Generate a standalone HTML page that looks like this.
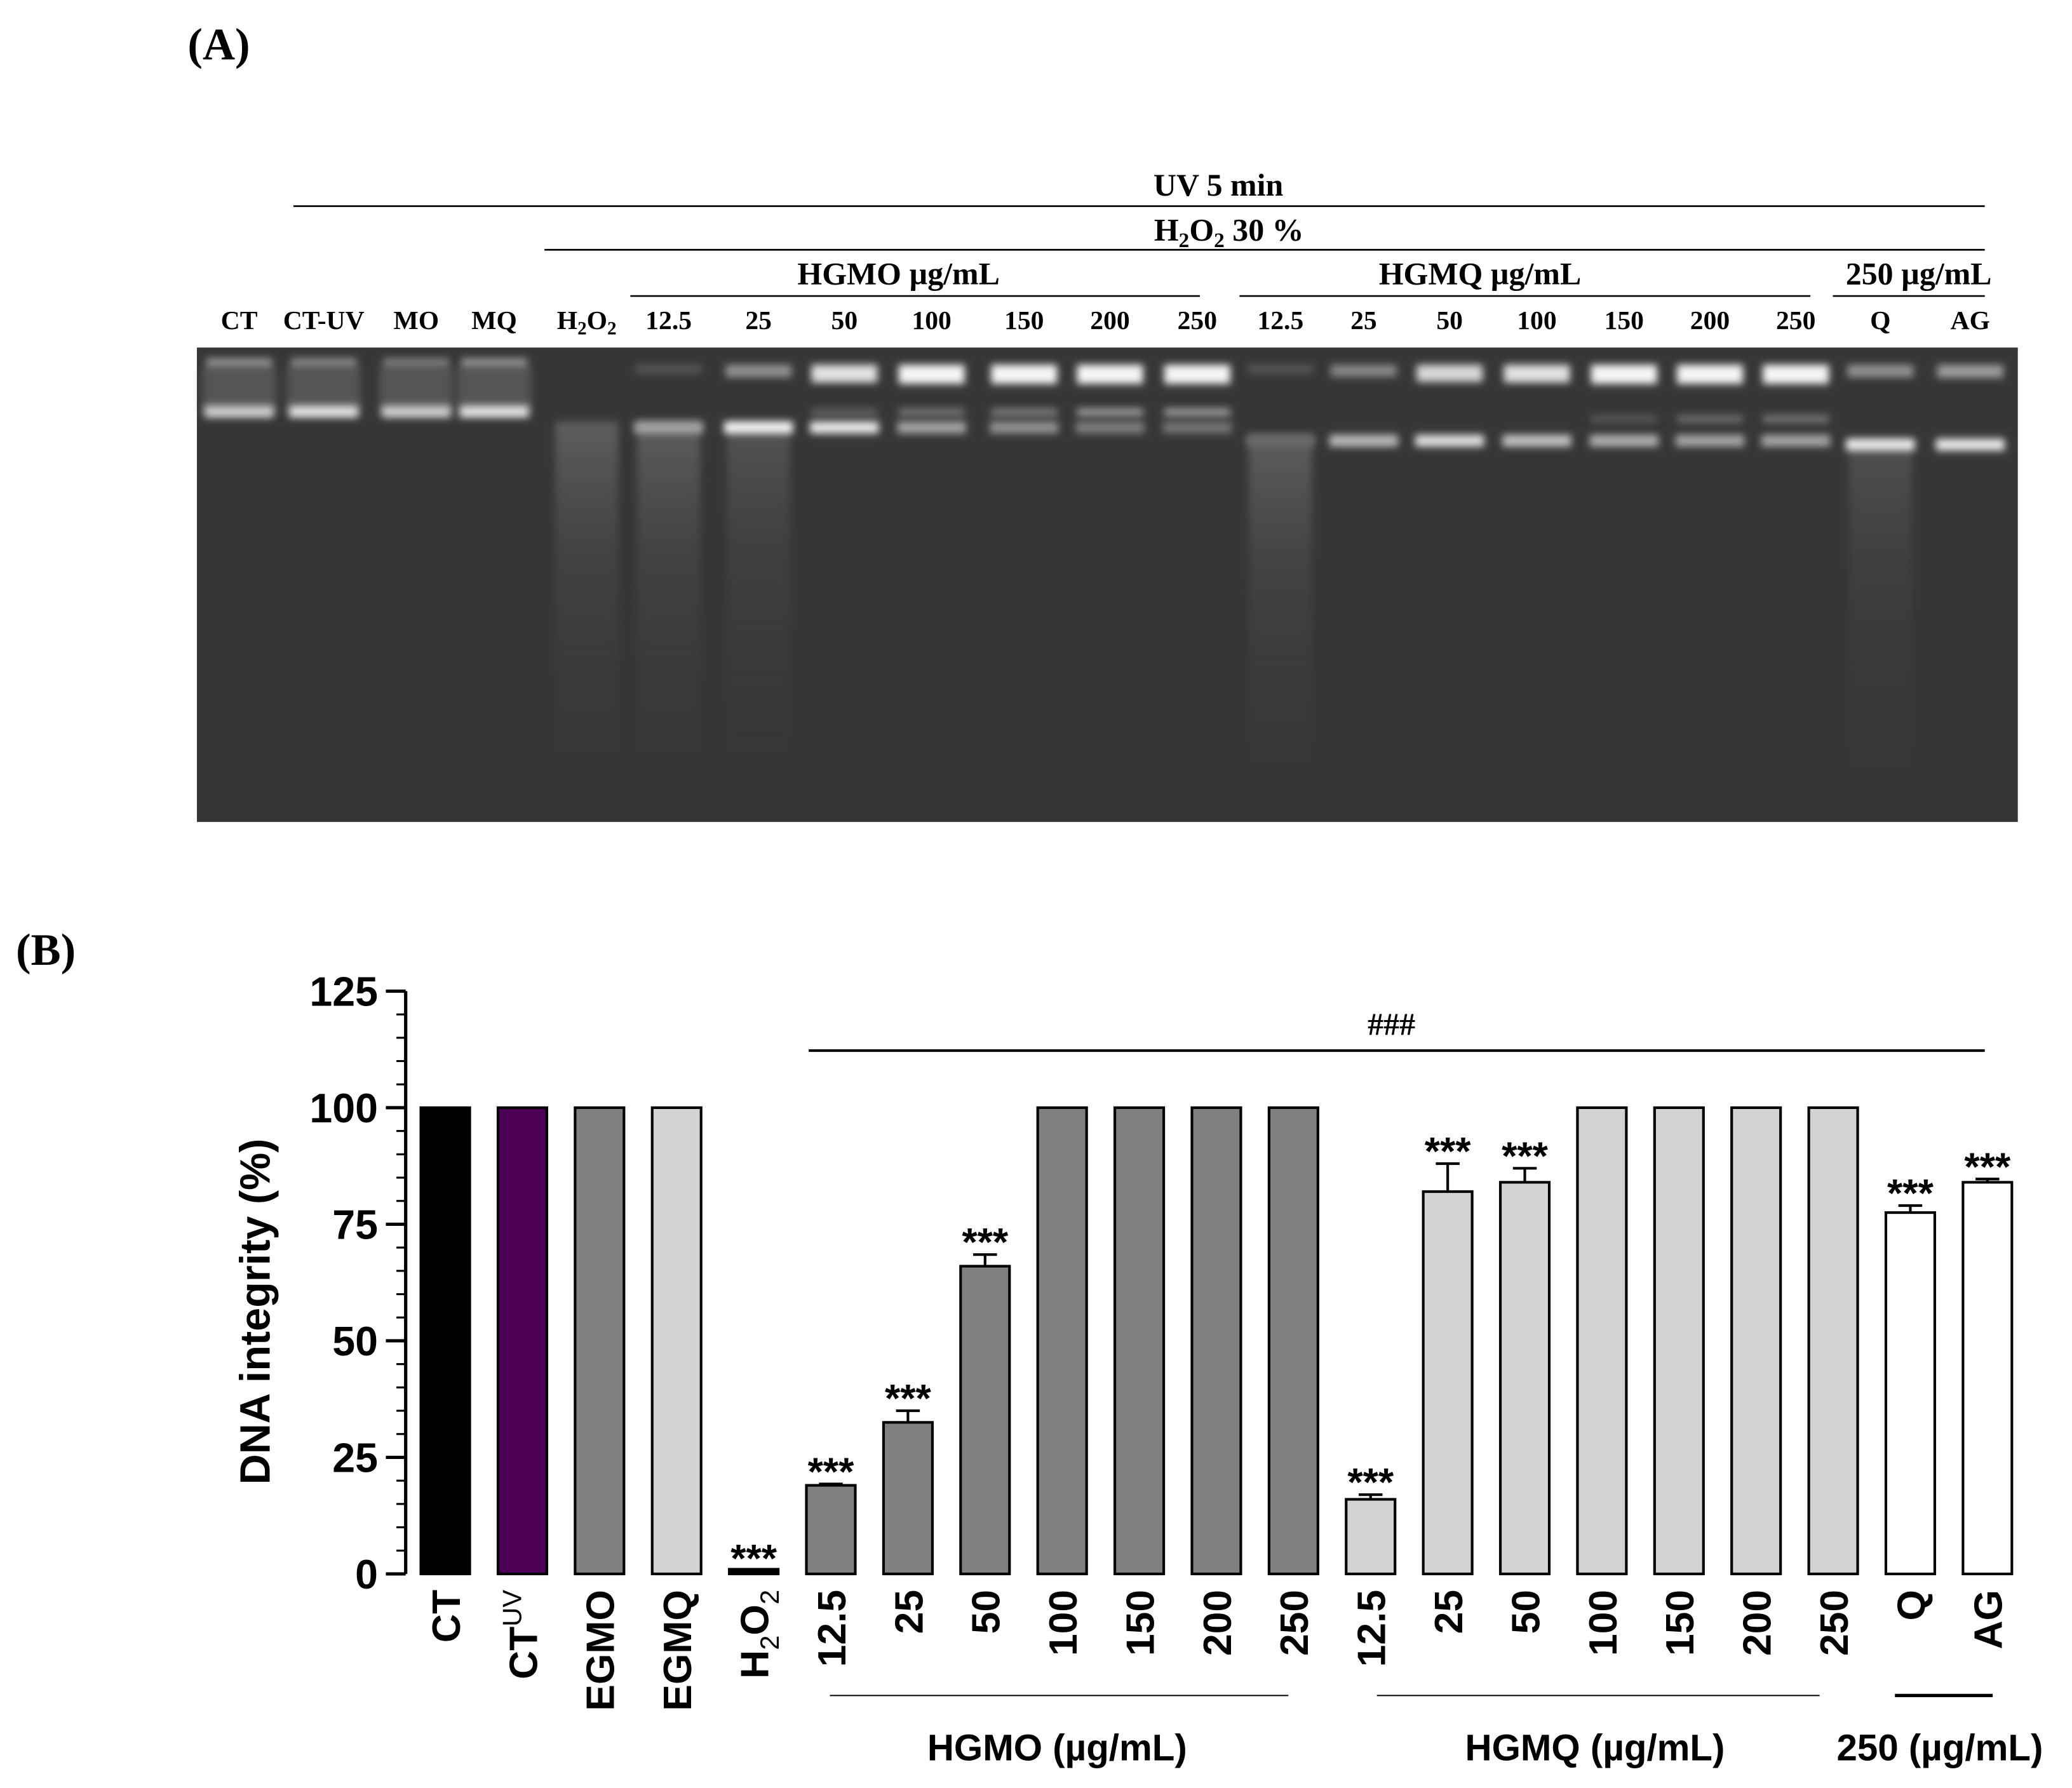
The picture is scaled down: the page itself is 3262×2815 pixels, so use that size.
<!DOCTYPE html>
<html><head><meta charset="utf-8">
<style>
html,body{margin:0;padding:0;background:#fff;}
svg{display:block;}
.tb{font-family:"Liberation Serif",serif;font-weight:bold;}
.ax{font-family:"Liberation Sans",sans-serif;font-weight:bold;}
</style></head>
<body>
<svg id="fig" width="3262" height="2815" viewBox="0 0 1568 1353" preserveAspectRatio="none" xmlns="http://www.w3.org/2000/svg">
<defs>
<filter id="blur" x="-20%" y="-80%" width="140%" height="260%"><feGaussianBlur stdDeviation="3"/></filter>
<linearGradient id="smear" x1="0" y1="0" x2="0" y2="1">
<stop offset="0" stop-color="#8a8a8a" stop-opacity="0.8"/>
<stop offset="0.4" stop-color="#666" stop-opacity="0.45"/>
<stop offset="1" stop-color="#4a4a4a" stop-opacity="0.1"/>
</linearGradient>
</defs>
<text class="tb" x="142" y="45" font-size="34">(A)</text>
<g>
<text class="tb" x="922" y="148" font-size="24" text-anchor="middle">UV 5 min</text>
<line x1="222" y1="156" x2="1502" y2="156" stroke="#000" stroke-width="1.3"/>
<text class="tb" x="930" y="182" font-size="24" text-anchor="middle">H<tspan font-size="16" dy="5">2</tspan><tspan dy="-5">O</tspan><tspan font-size="16" dy="5">2</tspan><tspan dy="-5"> 30 %</tspan></text>
<line x1="412" y1="189" x2="1502" y2="189" stroke="#000" stroke-width="1.3"/>
<text class="tb" x="680" y="215" font-size="24" text-anchor="middle">HGMO µg/mL</text>
<line x1="477" y1="224" x2="908" y2="224" stroke="#000" stroke-width="1.3"/>
<text class="tb" x="1120" y="215" font-size="24" text-anchor="middle">HGMQ µg/mL</text>
<line x1="938" y1="224" x2="1370" y2="224" stroke="#000" stroke-width="1.3"/>
<text class="tb" x="1452" y="215" font-size="24" text-anchor="middle">250 µg/mL</text>
<line x1="1387" y1="224" x2="1502" y2="224" stroke="#000" stroke-width="1.3"/>
</g>
<g id="laneLabels"></g>
<rect x="149" y="263" width="1378" height="359" fill="#363636"/>
<g id="gel"></g>

<text class="tb" x="12" y="730" font-size="34">(B)</text>
<g id="chart"></g>
</svg>
<script>
const NS="http://www.w3.org/2000/svg";
function mk(tag,attrs,parent){const e=document.createElementNS(NS,tag);for(const k in attrs)e.setAttribute(k,attrs[k]);parent.appendChild(e);return e;}

const laneNames=["CT","CT-UV","MO","MQ","H2O2","12.5","25","50","100","150","200","250","12.5","25","50","100","150","200","250","Q","AG"];
const laneX=[181,245,315,374,444,506,574,639,705,775,840,906,969,1032,1097,1163,1229,1294,1359,1423,1491];
const upperInt=[0.45,0.4,0.35,0.45,0,0.15,0.45,0.85,0.95,0.95,0.95,0.95,0.15,0.4,0.8,0.85,0.95,0.95,0.95,0.45,0.5];
const midInt=[0,0,0,0,0,0,0,0.2,0.3,0.35,0.5,0.5,0,0,0,0,0.15,0.25,0.3,0,0];
const lowInt=[0.75,0.85,0.75,0.85,0,0.55,0.95,0.9,0.55,0.45,0.35,0.3,0.25,0.65,0.85,0.7,0.6,0.55,0.55,0.9,0.9];
const lowY=[313,313,313,313,325,325,325,325,325,325,325,325,335,335,335,335,335,335,335,338,338];
const smearLanes=[4,5,6,12,19];
const ll=document.getElementById('laneLabels');
laneNames.forEach((n,i)=>{
  const t=mk('text',{x:laneX[i],y:249,'font-size':20,'text-anchor':'middle',class:'tb'},ll);
  
  
  if(n==="H2O2"){t.innerHTML='H<tspan font-size="14" dy="4">2</tspan><tspan dy="-4">O</tspan><tspan font-size="14" dy="4">2</tspan>';}
  else t.textContent=n;
});
const gel=document.getElementById('gel');
smearLanes.forEach(i=>{
  const r=mk('rect',{x:laneX[i]-24,y:lowY[i]-6,width:48,height:250,fill:'url(#smear)',opacity:i===19?0.4:(i===6?0.45:0.6),filter:'url(#blur)'},gel);
  
  
});
laneX.forEach((x,i)=>{
  const c=v=>`rgb(${Math.round(56+199*v)},${Math.round(56+199*v)},${Math.round(56+199*v)})`;
  if(i<4){const h=mk('rect',{x:x-28,y:278,width:56,height:36,fill:'#555',filter:'url(#blur)'},gel);}
  if(upperInt[i]>0){const b=mk('rect',{x:x-25,y:i<4?271:276,width:50,height:i<4?7:5+10*upperInt[i],fill:c(upperInt[i]),filter:'url(#blur)'},gel);}
  if(midInt[i]>0){const b=mk('rect',{x:x-25,y:i>11?314:309,width:50,height:6,fill:c(midInt[i]),filter:'url(#blur)'},gel);}
  if(lowInt[i]>0){const b=mk('rect',{x:x-26,y:lowY[i]-6,width:52,height:9,fill:c(lowInt[i]),filter:'url(#blur)'},gel);}
});

const categories=["CT","CTUV","EGMO","EGMQ","H2O2","12.5","25","50","100","150","200","250","12.5","25","50","100","150","200","250","Q","AG"];
const values=[100,100,100,100,1,19,32.5,66,100,100,100,100,16,82,84,100,100,100,100,77.5,84];
const errors=[0,0,0,0,0,0.3,2.5,2.5,0,0,0,0,1,6,3,0,0,0,0,1.5,0.7];
const stars=[0,0,0,0,1,1,1,1,0,0,0,0,1,1,1,0,0,0,0,1,1];
const colors=["#000","#4b0055","#808080","#d3d3d3","#000","#808080","#808080","#808080","#808080","#808080","#808080","#808080","#d3d3d3","#d3d3d3","#d3d3d3","#d3d3d3","#d3d3d3","#d3d3d3","#d3d3d3","#fff","#fff"];
const yTicks=[0,25,50,75,100,125];

const y0=1191,yTop=750,yMax=125,x0=337,step=58.35,bw=37;
const Y=v=>y0-(v/yMax)*(y0-yTop);
const X=i=>x0+i*step;
const ch=document.getElementById('chart');
const ax=mk('line',{x1:307,y1:Y(0),x2:307,y2:Y(125),stroke:'#000','stroke-width':2.5},ch);

for(let v=0;v<=125;v+=5){
  const major=v%25===0;
  const t=mk('line',{x1:major?292:300,y1:Y(v),x2:307,y2:Y(v),stroke:'#000','stroke-width':major?2.5:1.5},ch);
  
}
yTicks.forEach(v=>{
  const t=mk('text',{x:286,y:Y(v)+11,'font-size':31,'text-anchor':'end',class:'ax'},ch);
  t.textContent=v;
  
});
const yl=mk('text',{x:0,y:0,'font-size':32,'text-anchor':'middle',class:'ax',transform:`translate(204,${(Y(0)+Y(125))/2+22}) rotate(-90)`},ch);
yl.textContent='DNA integrity (%)';


categories.forEach((c,i)=>{
  const x=X(i),v=values[i];
  const b=mk('rect',{x:x-bw/2,y:Y(v),width:bw,height:Y(0)-Y(v),fill:colors[i],stroke:'#000','stroke-width':2},ch);
  
  if(errors[i]>0){
    const e=mk('path',{d:`M${x},${Y(v)} V${Y(v+errors[i])} M${x-9},${Y(v+errors[i])} H${x+9}`,stroke:'#000','stroke-width':2,fill:'none'},ch);
    
  }
  if(stars[i]){
    const s=mk('text',{x:x,y:Y(v+errors[i])+(i===4?2:1),'font-size':30,'text-anchor':'middle',class:'ax','font-weight':'normal'},ch);
    s.textContent='***';
    
  }
  const t=mk('text',{x:0,y:0,'font-size':30,'text-anchor':'end',class:'ax',transform:`translate(${x+11},1203) rotate(-90)`},ch);
  if(c==="CTUV") t.innerHTML='CT<tspan font-size="20" font-weight="normal" dy="-12">UV</tspan>';
  else if(c==="H2O2") t.innerHTML='H<tspan font-size="20" font-weight="normal" dy="8">2</tspan><tspan dy="-8">O</tspan><tspan font-size="20" font-weight="normal" dy="8">2</tspan>';
  else t.textContent=c;
  
});
const hl=mk('line',{x1:612,y1:795,x2:1502,y2:795,stroke:'#000','stroke-width':2},ch);

const hs=mk('text',{x:1053,y:783,'font-size':24,'text-anchor':'middle',class:'tb','font-weight':'normal'},ch);
hs.textContent='###';
const groups=[[628,975,800,'HGMO (µg/mL)',1],[1042,1377,1207,'HGMQ (µg/mL)',1],[1434,1508,1468,'250 (µg/mL)',2.5]];
groups.forEach(g=>{
  const l=mk('line',{x1:g[0],y1:1283,x2:g[1],y2:1283,stroke:'#000','stroke-width':g[4]},ch);
  
  const t=mk('text',{x:g[2],y:1332,'font-size':28,'text-anchor':'middle',class:'ax'},ch);
  t.textContent=g[3];
});
</script>
</body></html>
